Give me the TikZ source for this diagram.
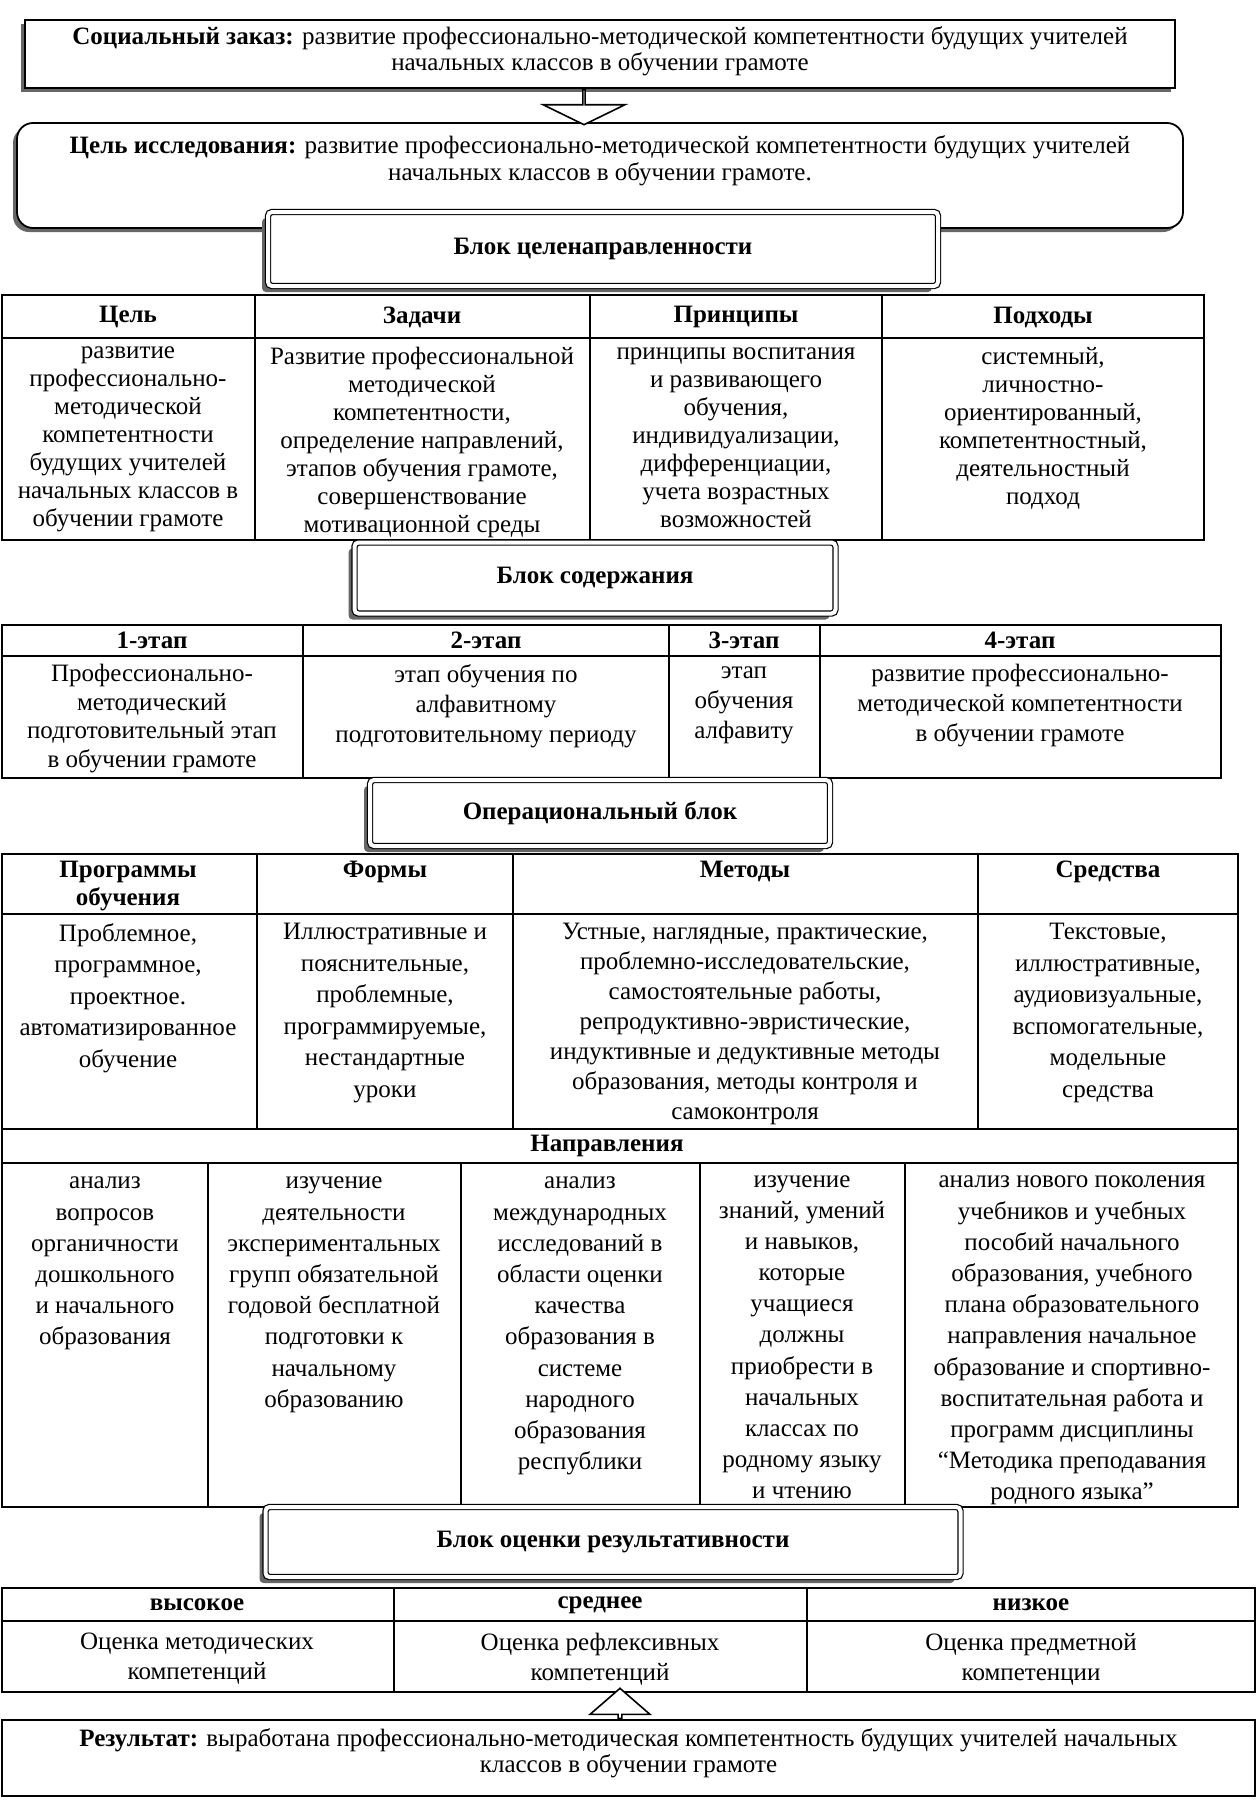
\documentclass[tikz,border=0pt]{standalone}
\usepackage{fontspec}
\setmainfont{Liberation Serif}
\usetikzlibrary{shadows,shapes.arrows}
\begin{document}
\begin{tikzpicture}[x=1pt,y=-1pt,
  tline/.style={line width=1.8pt},
  cell/.style={align=center, inner sep=0pt, anchor=north, font=\fontsize{25}{#1}\selectfont},
  cell/.default=28,
  hcell/.style={align=center, inner sep=0pt, font=\bfseries\fontsize{25}{28}\selectfont},
  blockbox/.style={draw, line width=1.2pt, double, double distance=4pt, fill=white, rounded corners=4pt,
    drop shadow={shadow xshift=-6pt, shadow yshift=-6pt, fill=black!60, opacity=1},
    font=\bfseries\fontsize{25}{28}\selectfont, inner sep=0pt},
  plainbox/.style={draw, line width=1.8pt, fill=white, inner sep=0pt},
  boxshadow/.style={drop shadow={shadow xshift=-4pt, shadow yshift=-4pt, fill=black!60, opacity=1}},
  boxtext/.style={align=center, inner sep=0pt, font=\fontsize{25}{26}\selectfont},
  hollowarrow/.style={single arrow, draw, line width=1.6pt, fill=white, inner sep=0pt}
]
\fill[white] (0,0) rectangle (1257,1815);
\useasboundingbox (0,0) rectangle (1257,1815);

% ---------- top boxes ----------
\node[plainbox, boxshadow, minimum width=1150, minimum height=68] (soc) at (600,54) {};
\node[boxtext] (soct) at (600,51) {\textbf{Социальный заказ:} развитие профессионально-методической компетентности будущих учителей\\начальных классов в обучении грамоте};

\node[plainbox, boxshadow, rounded corners=16pt, minimum width=1166, minimum height=105] (goal) at (600,175.5) {};
\node[boxtext, font=\fontsize{25}{27}\selectfont] (goalt) at (600,161) {\textbf{Цель исследования:} развитие профессионально-методической компетентности будущих учителей\\начальных классов в обучении грамоте.};

\coordinate (ax1) at (584,0);
\node[hollowarrow, shape border rotate=270, minimum height=35, minimum width=82,
  single arrow head extend=27, single arrow tip angle=128, anchor=tail] (arr1) at (soc.south -| ax1) {};

\node[blockbox, minimum width=670, minimum height=74] (blk1) at (603,249) {Блок целенаправленности};

% ---------- table 1 ----------
\draw[tline] (2,295) rectangle (1204,540);
\draw[tline] (2,338) -- (1204,338);
\draw[tline] (255,295) -- (255,540) (590,295) -- (590,540) (882,295) -- (882,540);
\node[hcell] (h11) at (128,317) {Цель};
\node[hcell] (h12) at (422,317) {Задачи};
\node[hcell] (h13) at (736,317) {Принципы};
\node[hcell] (h14) at (1043,317) {Подходы};
\node[cell=28] (b11) at (128,347) {развитие\\профессионально-\\методической\\компетентности\\будущих учителей\\начальных классов в\\обучении грамоте};
\node[cell=28] (b12) at (422,347) {Развитие профессиональной\\методической\\компетентности,\\определение направлений,\\этапов обучения грамоте,\\совершенствование\\мотивационной среды};
\node[cell=28] (b13) at (736,348) {принципы воспитания\\и развивающего\\обучения,\\индивидуализации,\\дифференциации,\\учета возрастных\\возможностей};
\node[cell=28] (b14) at (1043,347) {системный,\\личностно-\\ориентированный,\\компетентностный,\\деятельностный\\подход};

\node[blockbox, minimum width=481, minimum height=71] (blk2) at (595,578) {Блок содержания};

% ---------- table 2 ----------
\draw[tline] (2,625) rectangle (1221,778);
\draw[tline] (2,656) -- (1221,656);
\draw[tline] (303,625) -- (303,778) (669,625) -- (669,778) (820,625) -- (820,778);
\node[hcell] (h21) at (152,640) {1-этап};
\node[hcell] (h22) at (486,640) {2-этап};
\node[hcell] (h23) at (744,640) {3-этап};
\node[hcell] (h24) at (1020,640) {4-этап};
\node[cell=28.5] (b21) at (152,664) {Профессионально-\\методический\\подготовительный этап\\в обучении грамоте};
\node[cell=30] (b22) at (486,664) {этап обучения по\\алфавитному\\подготовительному периоду};
\node[cell=30] (b23) at (744,667) {этап\\обучения\\алфавиту};
\node[cell=30] (b24) at (1020,664) {развитие профессионально-\\методической компетентности\\в обучении грамоте};

\node[blockbox, minimum width=460, minimum height=66] (blk3) at (600,813) {Операциональный блок};

% ---------- table 3 + directions ----------
\draw[tline] (2,854) rectangle (1238,1507);
\draw[tline] (2,914) -- (1238,914) (2,1129) -- (1238,1129) (2,1163) -- (1238,1163);
\draw[tline] (257,854) -- (257,1129) (513,854) -- (513,1129) (978,854) -- (978,1129);
\draw[tline] (208,1163) -- (208,1507) (461,1163) -- (461,1507) (700,1163) -- (700,1507) (905,1163) -- (905,1507);
\node[hcell, anchor=north] (h31) at (128,861) {Программы\\обучения};
\node[hcell, anchor=north] (h32) at (385,861) {Формы};
\node[hcell, anchor=north] (h33) at (745,861) {Методы};
\node[hcell, anchor=north] (h34) at (1108,861) {Средства};
\node[cell=31.5] (b31) at (128,923) {Проблемное,\\программное,\\проектное.\\автоматизированное\\обучение};
\node[cell=31.5] (b32) at (385,923) {Иллюстративные и\\пояснительные,\\проблемные,\\программируемые,\\нестандартные\\уроки};
\node[cell=30] (b33) at (745,923) {Устные, наглядные, практические,\\проблемно-исследовательские,\\самостоятельные работы,\\репродуктивно-эвристические,\\индуктивные и дедуктивные методы\\образования, методы контроля и\\самоконтроля};
\node[cell=31.5] (b34) at (1108,923) {Текстовые,\\иллюстративные,\\аудиовизуальные,\\вспомогательные,\\модельные\\средства};

\node[hcell] (h40) at (607,1146) {Направления};
\node[cell=31.2] (b41) at (105,1177) {анализ\\вопросов\\органичности\\дошкольного\\и начального\\образования};
\node[cell=31.2] (b42) at (334,1177) {изучение\\деятельности\\экспериментальных\\групп обязательной\\годовой бесплатной\\подготовки к\\начальному\\образованию};
\node[cell=31.2] (b43) at (580,1177) {анализ\\международных\\исследований в\\области оценки\\качества\\образования в\\системе\\народного\\образования\\республики};
\node[cell=31.2] (b44) at (802,1175) {изучение\\знаний, умений\\и навыков,\\которые\\учащиеся\\должны\\приобрести в\\начальных\\классах по\\родному языку\\и чтению};
\node[cell=31.2] (b45) at (1072,1176) {анализ нового поколения\\учебников и учебных\\пособий начального\\образования, учебного\\плана образовательного\\направления начальное\\образование и спортивно-\\воспитательная работа и\\программ дисциплины\\“Методика преподавания\\родного языка”};

\node[blockbox, minimum width=695, minimum height=70] (blk4) at (613,1542) {Блок оценки результативности};

% ---------- table 4 ----------
\draw[tline] (2,1588) rectangle (1255,1692);
\draw[tline] (2,1621) -- (1255,1621);
\draw[tline] (394,1588) -- (394,1692) (807,1588) -- (807,1692);
\node[hcell] (h51) at (197,1605) {высокое};
\node[hcell] (h52) at (600,1605) {среднее};
\node[hcell] (h53) at (1031,1605) {низкое};
\node[cell=30] (b51) at (197,1633) {Оценка методических\\компетенций};
\node[cell=30] (b52) at (600,1633) {Оценка рефлексивных\\компетенций};
\node[cell=30] (b53) at (1031,1633) {Оценка предметной\\компетенции};

% ---------- result ----------
\node[plainbox, minimum width=1253, minimum height=76] (res) at (628.5,1758) {};
\node[boxtext] (rest) at (628.5,1753) {\textbf{Результат:} выработана профессионально-методическая компетентность будущих учителей начальных\\классов в обучении грамоте};
\coordinate (ax2) at (620,0);
\node[hollowarrow, shape border rotate=90, minimum height=30, minimum width=60,
  single arrow head extend=12, single arrow tip angle=98, anchor=tail] (arr2) at (res.north -| ax2) {};
\end{tikzpicture}
\end{document}
